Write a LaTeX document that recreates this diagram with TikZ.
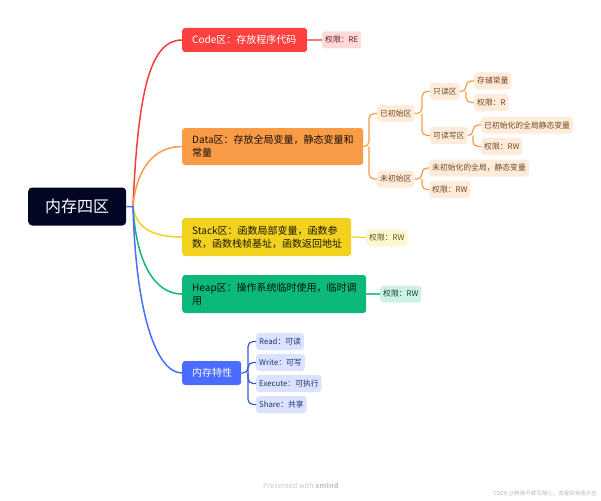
\documentclass[tikz,border=0pt]{standalone}
\usepackage{fontspec}
\setmainfont{Noto Sans CJK SC}
\definecolor{rootc}{HTML}{020524}
\definecolor{codec}{HTML}{FF4040}
\definecolor{datac}{HTML}{F99B47}
\definecolor{stackc}{HTML}{F2D21F}
\definecolor{heapc}{HTML}{0DB97A}
\definecolor{memc}{HTML}{4A6CFF}
\tikzset{
	topic/.style={anchor=west, rounded corners=3pt, inner xsep=10pt, inner ysep=0pt, align=left, font=\fontsize{10}{13}\selectfont},
	leaf/.style={anchor=west, rounded corners=3pt, inner xsep=3pt, inner ysep=0pt, minimum height=17pt, font=\fontsize{7.8}{10}\selectfont},
	dataleaf/.style={leaf, fill=datac!20, text=datac!45!black},
	memleaf/.style={leaf, fill=memc!20, text=memc!45!black},
	link/.style={line width=1.2pt, rounded corners=5pt},
	branch/.style={line width=1.5pt},
}
\begin{document}
\begin{tikzpicture}[x=1pt, y=-1pt]
	\useasboundingbox (0, 0) rectangle (601, 500);
	% main topics
	\node[anchor=west, fill=rootc, text=white, rounded corners=4pt, minimum width=98pt, minimum height=38pt, font=\fontsize{16}{20}\selectfont] (root) at (28, 206.5) {内存四区};
	\node[topic, fill=codec, text=white, text width=105pt, minimum height=24pt] (code) at (182, 40) {Code区：存放程序代码};
	\node[topic, fill=datac, text=black!90!datac, text width=161pt, minimum height=37pt] (data) at (182, 146.5) {Data区：存放全局变量，静态变量和\\常量};
	\node[topic, fill=stackc, text=black!90!stackc, text width=149pt, minimum height=38pt] (stack) at (182, 237) {Stack区：函数局部变量，函数参\\数，函数栈帧基址，函数返回地址};
	\node[topic, fill=heapc, text=black!90!heapc, text width=164pt, minimum height=38pt] (heap) at (182, 294) {Heap区：操作系统临时使用，临时调\\用};
	\node[topic, fill=memc, text=white, text width=39pt, minimum height=24pt] (mem) at (182, 373) {内存特性};
	% rights
	\node[leaf, fill=codec!20, text=codec!40!black] (coderight) at (322, 40) {权限：RE};
	\node[leaf, fill=stackc!20, text=stackc!40!black] (stackright) at (366, 237.5) {权限：RW};
	\node[leaf, fill=heapc!20, text=heapc!40!black] (heapright) at (380, 294) {权限：RW};
	% data subtree
	\node[dataleaf] (init) at (377, 113.5) {已初始区};
	\node[dataleaf] (uninit) at (377, 179) {未初始区};
	\node[dataleaf] (readonly) at (430, 91.5) {只读区};
	\node[dataleaf] (readwrite) at (430, 135.5) {可读写区};
	\node[dataleaf] (constant) at (474, 81) {存储常量};
	\node[dataleaf] (rightr) at (474, 102.5) {权限：R};
	\node[dataleaf] (initglobal) at (481, 125) {已初始化的全局静态变量};
	\node[dataleaf] (rightrw) at (481, 146.5) {权限：RW};
	\node[dataleaf] (uninitglobal) at (429, 168) {未初始化的全局，静态变量};
	\node[dataleaf] (uninitright) at (429, 189.5) {权限：RW};
	% memory subtree
	\node[memleaf] (read) at (256, 341.5) {Read：可读};
	\node[memleaf] (write) at (256, 362.5) {Write：可写};
	\node[memleaf] (execute) at (256, 383.5) {Execute：可执行};
	\node[memleaf] (share) at (256, 404.5) {Share：共享};
	% junctions
	\coordinate (hub) at (133, 206.5);
	\coordinate (datahub) at (369, 146.5);
	\coordinate (inithub) at (422, 113.5);
	\coordinate (uninithub) at (422, 179);
	\coordinate (readhub) at (466, 91.5);
	\coordinate (writehub) at (473, 135.5);
	\coordinate (memhub) at (248, 373);
	% branches from the root
	\draw[branch, color=codec!95!black] (hub) .. controls +(5, -115) and +(-32, 0) .. (code.west);
	\draw[branch, color=datac] (hub) .. controls +(3, -35) and +(-30, 0) .. (data.west);
	\draw[branch, color=stackc] (hub) .. controls +(3, 20) and +(-32, 0) .. (stack.west);
	\draw[branch, color=heapc] (hub) .. controls +(3, 55) and +(-28, 0) .. (heap.west);
	\draw[branch, color=memc] (root.east) -- (hub) .. controls +(3, 110) and +(-25, 0) .. (mem.west);
	% links to the rights
	\draw[link, color=codec!70] (code.east) -- (coderight.west);
	\draw[link, color=stackc] (stack.east) -- (stackright.west);
	\draw[link, color=heapc!80] (heap.east) -- (heapright.west);
	% data links
	\draw[link, color=datac] (data.east) -- (datahub) |- (init.west);
	\draw[link, color=datac] (datahub) |- (uninit.west);
	\draw[link, color=datac] (init.east) -- (inithub) |- (readonly.west);
	\draw[link, color=datac] (inithub) |- (readwrite.west);
	\draw[link, color=datac] (readonly.east) -- (readhub) |- (constant.west);
	\draw[link, color=datac] (readhub) |- (rightr.west);
	\draw[link, color=datac] (readwrite.east) -- (writehub) |- (initglobal.west);
	\draw[link, color=datac] (writehub) |- (rightrw.west);
	\draw[link, color=datac] (uninit.east) -- (uninithub) |- (uninitglobal.west);
	\draw[link, color=datac] (uninithub) |- (uninitright.west);
	% memory links
	\draw[link, color=memc!80!black] (mem.east) -- (memhub) |- (read.west);
	\draw[link, color=memc!80!black] (memhub) |- (write.west);
	\draw[link, color=memc!80!black] (memhub) |- (execute.west);
	\draw[link, color=memc!80!black] (memhub) |- (share.west);
	% footer
	\node[anchor=west, inner sep=0pt, text=black!22, font=\fontsize{7.2}{9}\selectfont] (footer) at (263, 485.5) {Presented with \textbf{xmind}};
	\node[anchor=east, inner sep=0pt, text=black!28, font=\fontsize{5.5}{7}\selectfont] (mark) at (597, 494) {CSDN @熬夜不敢写随心，宽容扶我青云志};
\end{tikzpicture}
\end{document}
